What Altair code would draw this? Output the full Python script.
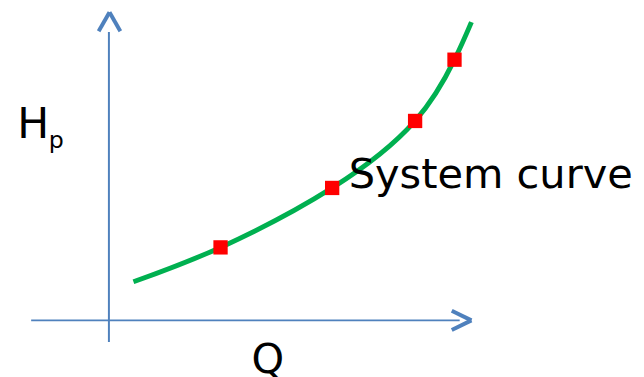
import altair as alt
import pandas as pd

# System curve
curve_q = [0.71, 3.23, 6.46, 8.86, 10.0, 10.49]
curve_h = [1.48, 2.80, 5.08, 7.65, 10.0, 11.44]

# Operating points
pts_q = [3.23, 6.46, 8.86, 10.0]
pts_h = [2.80, 5.08, 7.65, 10.0]

# Labels
label_text = ["H", "p", "System curve"]
label_q = [-2.65, -1.74, 6.94]
label_h = [6.98, 6.63, 5.09]
label_size = [43, 24, 42]

XD = [-2.92, 15.252]
YD = [-2.083, 11.894]
BLUE = "#4F81BD"

xs = alt.Scale(domain=XD, nice=False, zero=False)
ys = alt.Scale(domain=YD, nice=False, zero=False)

def X(f="q"):
    return alt.X(f"{f}:Q", scale=xs, axis=None)

def Y(f="h"):
    return alt.Y(f"{f}:Q", scale=ys, axis=None)

# axis lines
axes_df = pd.DataFrame({
    "q": [0.0, -2.25], "q2": [0.0, 10.15],
    "h": [-0.83, 0.0], "h2": [11.06, 0.0],
})
axes = alt.Chart(axes_df).mark_rule(color=BLUE, strokeWidth=2).encode(
    x=X(), x2="q2:Q", y=Y(), y2="h2:Q")

# arrow heads
heads_df = pd.DataFrame({
    "q": [-0.297, 0.331, 9.92, 9.92],
    "h": [11.09, 11.09, 0.37, -0.37],
    "q2": [0.017, 0.017, 10.49, 10.49],
    "h2": [11.82, 11.82, 0.0, 0.0],
})
heads = alt.Chart(heads_df).mark_rule(color=BLUE, strokeWidth=4, strokeCap="butt").encode(
    x=X(), x2="q2:Q", y=Y(), y2="h2:Q")

curve = alt.Chart(pd.DataFrame({"q": curve_q, "h": curve_h})).mark_line(
    color="#00B050", strokeWidth=5, interpolate="natural").encode(x=X(), y=Y())

pts = alt.Chart(pd.DataFrame({"q": pts_q, "h": pts_h})).mark_square(
    color="#FF0000", opacity=1, size=210).encode(x=X(), y=Y())

labels = alt.Chart(pd.DataFrame({"t": label_text, "q": label_q, "h": label_h, "s": label_size})).mark_text(
    align="left", baseline="alphabetic", font="DejaVu Sans", color="black").encode(
    x=X(), y=Y(), text="t:N", size=alt.Size("s:Q", scale=None, legend=None))

qlabel = alt.Chart(pd.DataFrame({"t": ["Q"], "q": [4.60], "h": [-2.03]})).mark_text(
    align="center", baseline="alphabetic", font="DejaVu Sans", fontSize=42, color="black").encode(
    x=X(), y=Y(), text="t:N")

chart = alt.layer(axes, heads, curve, pts, labels, qlabel).properties(
    width=636, height=369, padding=0, autosize=alt.AutoSizeParams(type="none"),
    background="white"
).configure_view(stroke=None)

chart.save("out.html", embed_options={"renderer": "svg", "actions": False})
